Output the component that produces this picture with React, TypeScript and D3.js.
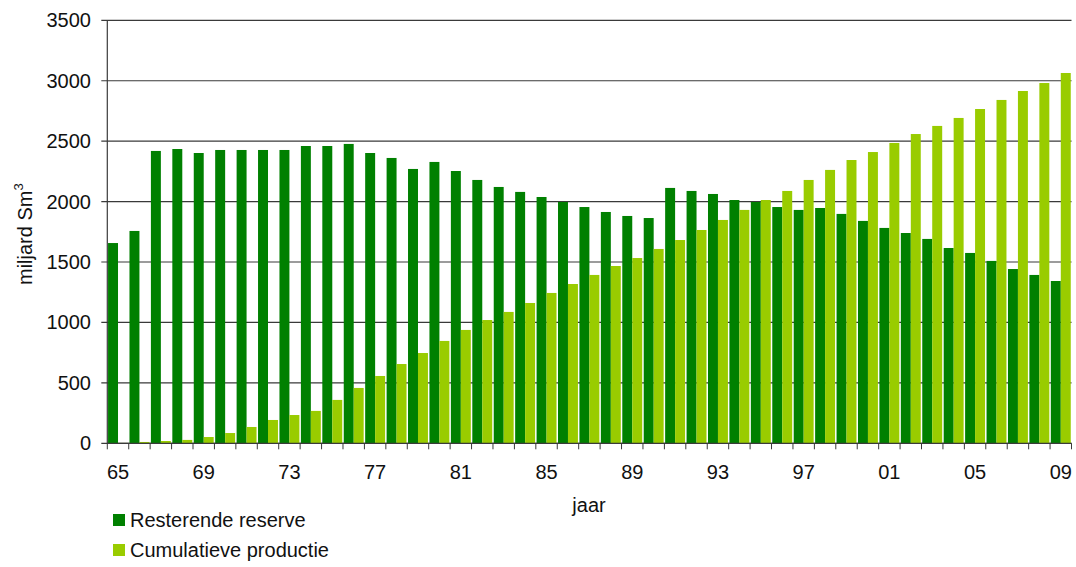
import React from "react";
import * as d3 from "d3";

const years: number[] = d3.range(1965, 2010);
const reserve: number[] = [
  1657, 1757, 2419, 2435, 2402, 2427, 2427, 2427, 2427, 2460,
  2460, 2477, 2402, 2361, 2270, 2328, 2253, 2179, 2121, 2080,
  2038, 1997, 1955, 1914, 1881, 1864, 2113, 2088, 2063, 2013,
  1997, 1955, 1931, 1947, 1898, 1840, 1782, 1740, 1691, 1616,
  1575, 1509, 1442, 1393, 1343,
];
const production: number[] = [
  3, 11, 19, 28, 52, 85, 135, 193, 234, 268,
  359, 458, 557, 656, 747, 847, 938, 1020, 1087, 1161,
  1244, 1318, 1393, 1467, 1533, 1608, 1682, 1765, 1848, 1931,
  2013, 2088, 2179, 2262, 2344, 2410, 2485, 2559, 2626, 2692,
  2766, 2841, 2915, 2981, 3064,
];
const yTicks: number[] = [0, 500, 1000, 1500, 2000, 2500, 3000, 3500];
const seriesNames: string[] = ["Resterende reserve", "Cumulatieve productie"];
const seriesColors: string[] = ["#008000", "#99CC00"];

const W = 1076;
const H = 567;
const left = 107.3;
const right = 1071.5;
const top = 20.3;
const bottom = 443.3;
const FONT = "'Liberation Sans', Arial, sans-serif";

export default function App() {
  const x = d3
    .scaleBand<number>()
    .domain(years)
    .range([left, right])
    .paddingInner(0.07)
    .paddingOuter(0.035);
  const step = x.step();
  const inner = d3
    .scaleBand<number>()
    .domain([0, 1])
    .range([0, x.bandwidth()]);
  const y = d3.scaleLinear().domain([0, 3500]).range([bottom, top]);
  const series = [reserve, production];
  const boundaries = d3.range(0, years.length + 1).map((i) => left + i * step);

  return (
    <svg
      width={W}
      height={H}
      style={{ position: "absolute", left: 0, top: 0 }}
      fontFamily={FONT}
    >
      <rect x={0} y={0} width={W} height={H} fill="#ffffff" />
      {/* gridlines */}
      {yTicks.map((t) => (
        <line
          key={"g" + t}
          x1={left - 6}
          x2={right}
          y1={y(t)}
          y2={y(t)}
          stroke="#3a3a3a"
          strokeWidth={1.2}
        />
      ))}
      {/* bars */}
      {series.map((vals, si) =>
        years.map((yr, i) => (
          <rect
            key={si + "-" + yr}
            x={(x(yr) as number) + (inner(si) as number)}
            y={y(vals[i])}
            width={inner.bandwidth()}
            height={bottom - y(vals[i])}
            fill={seriesColors[si]}
          />
        ))
      )}
      {/* axes */}
      <line x1={left} x2={left} y1={top} y2={bottom} stroke="#3a3a3a" strokeWidth={1.2} />
      <line x1={left} x2={right} y1={bottom} y2={bottom} stroke="#3a3a3a" strokeWidth={1.2} />
      {boundaries.map((bx, i) => (
        <line
          key={"t" + i}
          x1={bx}
          x2={bx}
          y1={bottom}
          y2={bottom + 6}
          stroke="#3a3a3a"
          strokeWidth={1}
        />
      ))}
      {/* y tick labels */}
      {yTicks.map((t) => (
        <text
          key={"yl" + t}
          x={91}
          y={y(t) + 7}
          textAnchor="end"
          fontSize={20}
          fill="#111"
        >
          {t}
        </text>
      ))}
      {/* x tick labels */}
      {years.map((yr, i) =>
        i % 4 === 0 ? (
          <text
            key={"xl" + yr}
            x={left + (i + 0.5) * step}
            y={479}
            textAnchor="middle"
            fontSize={20}
            fill="#111"
          >
            {String(yr % 100).padStart(2, "0")}
          </text>
        ) : null
      )}
      {/* axis titles */}
      <text x={589} y={512} textAnchor="middle" fontSize={20} fill="#111">
        jaar
      </text>
      <text
        transform="translate(32,285) rotate(-90)"
        textAnchor="start"
        fontSize={20}
        fill="#111"
      >
        miljard Sm
        <tspan fontSize={13} dy={-9}>
          3
        </tspan>
      </text>
      {/* legend */}
      {seriesNames.map((name, i) => (
        <g key={"lg" + i} transform={`translate(0,${i * 30})`}>
          <rect x={113} y={514} width={12} height={12} fill={seriesColors[i]} />
          <text x={130} y={527} fontSize={20} fill="#111">
            {name}
          </text>
        </g>
      ))}
    </svg>
  );
}
